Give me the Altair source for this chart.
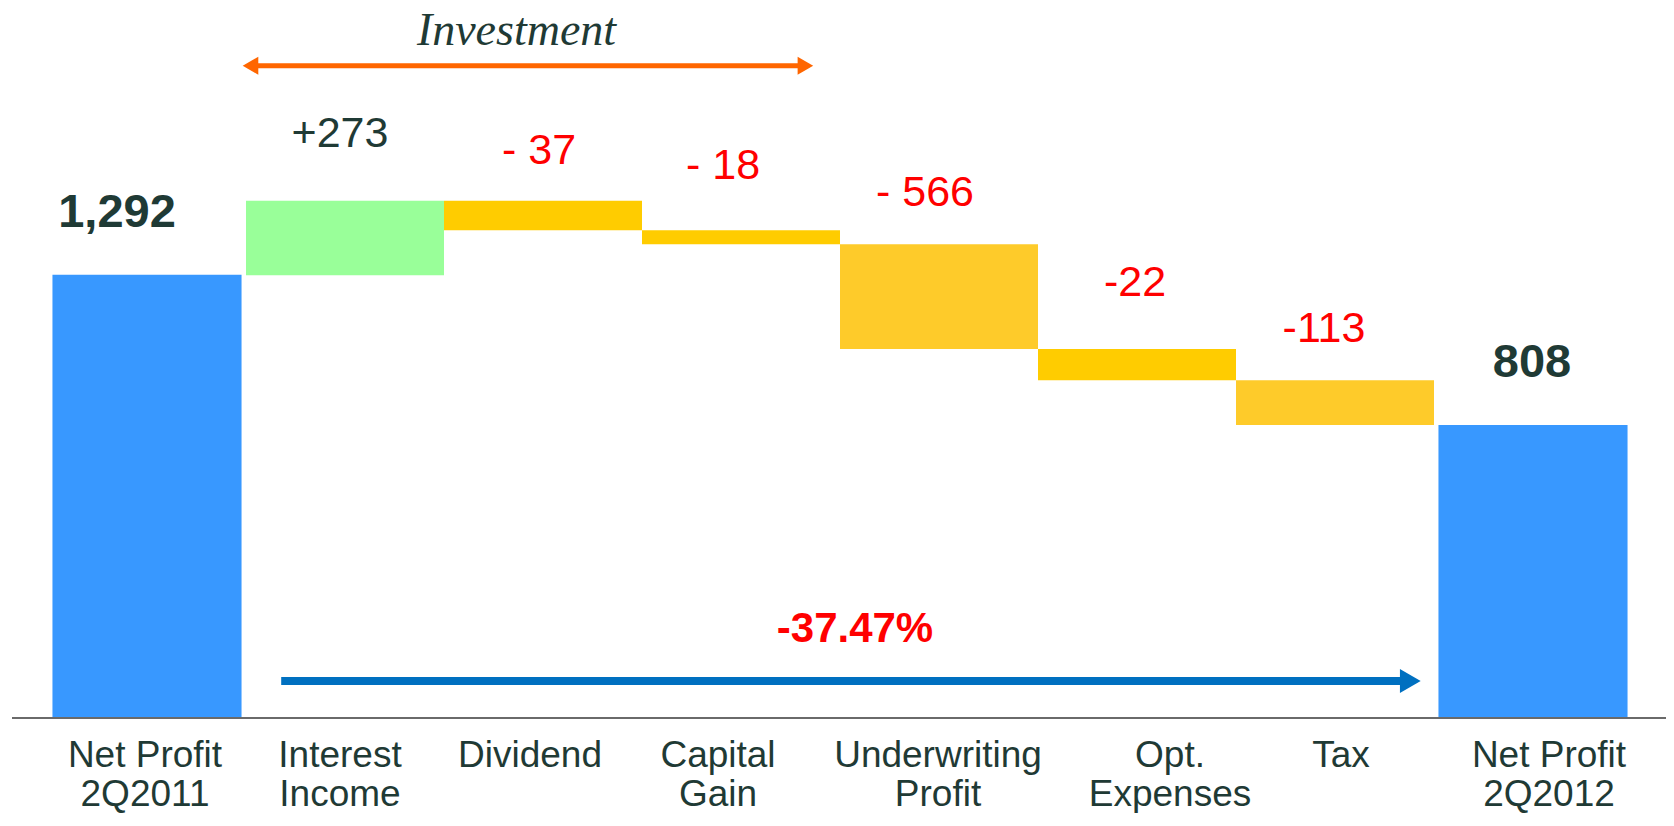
import altair as alt
import pandas as pd

# ---------------- data ----------------
categories = ["Net Profit 2Q2011", "Interest Income", "Dividend", "Capital Gain",
              "Underwriting Profit", "Opt. Expenses", "Tax", "Net Profit 2Q2012"]
axis_labels = ["Net Profit\n2Q2011", "Interest\nIncome", "Dividend", "Capital\nGain",
               "Underwriting\nProfit", "Opt.\nExpenses", "Tax", "Net Profit\n2Q2012"]
kinds = ["total", "increase", "decrease", "decrease",
         "decrease", "decrease", "decrease", "total"]
value_labels = ["1,292", "+273", "- 37", "- 18", "- 566", "-22", "-113", "808"]
# bar extents as drawn in the picture (same units as the 1,292 bar)
bar_start = [0, 1291, 1508, 1422, 1381, 1076, 985, 0]
bar_end = [1292, 1508, 1422, 1381, 1076, 985, 854, 854]

bracket_title = "Investment"
change_label = "-37.47%"

# ---------------- styles ----------------
bar_colors = ["#3898FF", "#99FF99", "#FFCC00", "#FFCC00",
              "#FECB2A", "#FFCC00", "#FECB2A", "#3898FF"]
value_dx = [-30, -5, -4, -18, -14, -2, -11, -1]
value_dy = [-48, -54, -37, -51, -38, -53, -38, -48]
label_dx = [-2, -5, -13, -23, -1, 33, 6, 16]
DARK = "#1F3A35"
RED = "#FF0000"
FONT = "Liberation Sans"

df = pd.DataFrame({
    "cat": categories,
    "label": axis_labels,
    "kind": kinds,
    "vlabel": value_labels,
    "start": bar_start,
    "end": bar_end,
})
df["top"] = df[["start", "end"]].max(axis=1)

W, H = 1584, 710
x_enc = alt.X("cat:N", sort=categories, axis=None,
              scale=alt.Scale(paddingInner=0, paddingOuter=0))
y_scale = alt.Scale(domain=[0, 2070], nice=False, zero=True)
color_enc = alt.Color("cat:N", scale=alt.Scale(domain=categories, range=bar_colors), legend=None)

base = alt.Chart(df)

totals = base.transform_filter(alt.datum.kind == "total").mark_bar(
    width={"band": 0.955}, opacity=1
).encode(
    x=x_enc,
    y=alt.Y("start:Q", scale=y_scale, axis=None),
    y2="end:Q",
    color=color_enc,
)
steps = base.transform_filter(alt.datum.kind != "total").mark_bar(
    width={"band": 1.0}, opacity=1
).encode(
    x=x_enc,
    y=alt.Y("start:Q", scale=y_scale, axis=None),
    y2="end:Q",
    color=color_enc,
)

layers = [totals, steps]

# baseline
one = alt.Chart(pd.DataFrame({"a": [0]}))
layers.append(one.mark_rule(color="#6A6A6A", strokeWidth=2).encode(
    x=alt.value(-36), x2=alt.value(1618), y=alt.value(H)))

# value labels and category labels
for i, c in enumerate(categories):
    k = kinds[i]
    if k == "total":
        col, size, weight = DARK, 47, "bold"
    elif k == "increase":
        col, size, weight = DARK, 43, "normal"
    else:
        col, size, weight = RED, 43, "normal"
    layers.append(
        base.transform_filter(alt.datum.cat == c).mark_text(
            font=FONT, fontSize=size, fontWeight=weight, color=col,
            align="center", baseline="alphabetic", dx=value_dx[i], dy=value_dy[i]
        ).encode(x=x_enc, y=alt.Y("top:Q", scale=y_scale, axis=None), text="vlabel:N")
    )
    layers.append(
        base.transform_filter(alt.datum.cat == c).mark_text(
            font=FONT, fontSize=37, color=DARK, align="center", baseline="alphabetic",
            lineBreak="\n", lineHeight=39, dx=label_dx[i]
        ).encode(x=x_enc, y=alt.value(759), text="label:N")
    )

# "Investment" bracket with orange double arrow
ORANGE = "#FF6600"
layers.append(one.mark_text(
    font="Liberation Serif", fontStyle="italic", fontSize=46, color=DARK,
    align="center", baseline="alphabetic"
).encode(x=alt.value(468.5), y=alt.value(37), text=alt.value(bracket_title)))
layers.append(one.mark_rule(color=ORANGE, strokeWidth=5).encode(
    x=alt.value(203), x2=alt.value(757), y=alt.value(57.7)))
layers.append(one.mark_point(shape="triangle-left", size=324, filled=True,
                             color=ORANGE, opacity=1).encode(
    x=alt.value(202.5), y=alt.value(57.7)))
layers.append(one.mark_point(shape="triangle-right", size=324, filled=True,
                             color=ORANGE, opacity=1).encode(
    x=alt.value(757.4), y=alt.value(57.7)))

# overall change arrow
BLUE = "#0070C0"
layers.append(one.mark_rule(color=BLUE, strokeWidth=8).encode(
    x=alt.value(233.2), x2=alt.value(1355), y=alt.value(673)))
layers.append(one.mark_point(shape="triangle-right", size=576, filled=True,
                             color=BLUE, opacity=1).encode(
    x=alt.value(1362.3), y=alt.value(673)))
layers.append(one.mark_text(
    font=FONT, fontSize=42, fontWeight="bold", color=RED,
    align="center", baseline="alphabetic"
).encode(x=alt.value(807), y=alt.value(633.7), text=alt.value(change_label)))

chart = alt.layer(*layers).properties(
    width=W, height=H,
    autosize=alt.AutoSizeParams(type="none"),
    padding={"left": 40, "top": 0, "right": 34, "bottom": 95},
    background="white",
).configure_view(strokeWidth=0)

chart.save("out.html", embed_options={"renderer": "svg", "actions": False})
